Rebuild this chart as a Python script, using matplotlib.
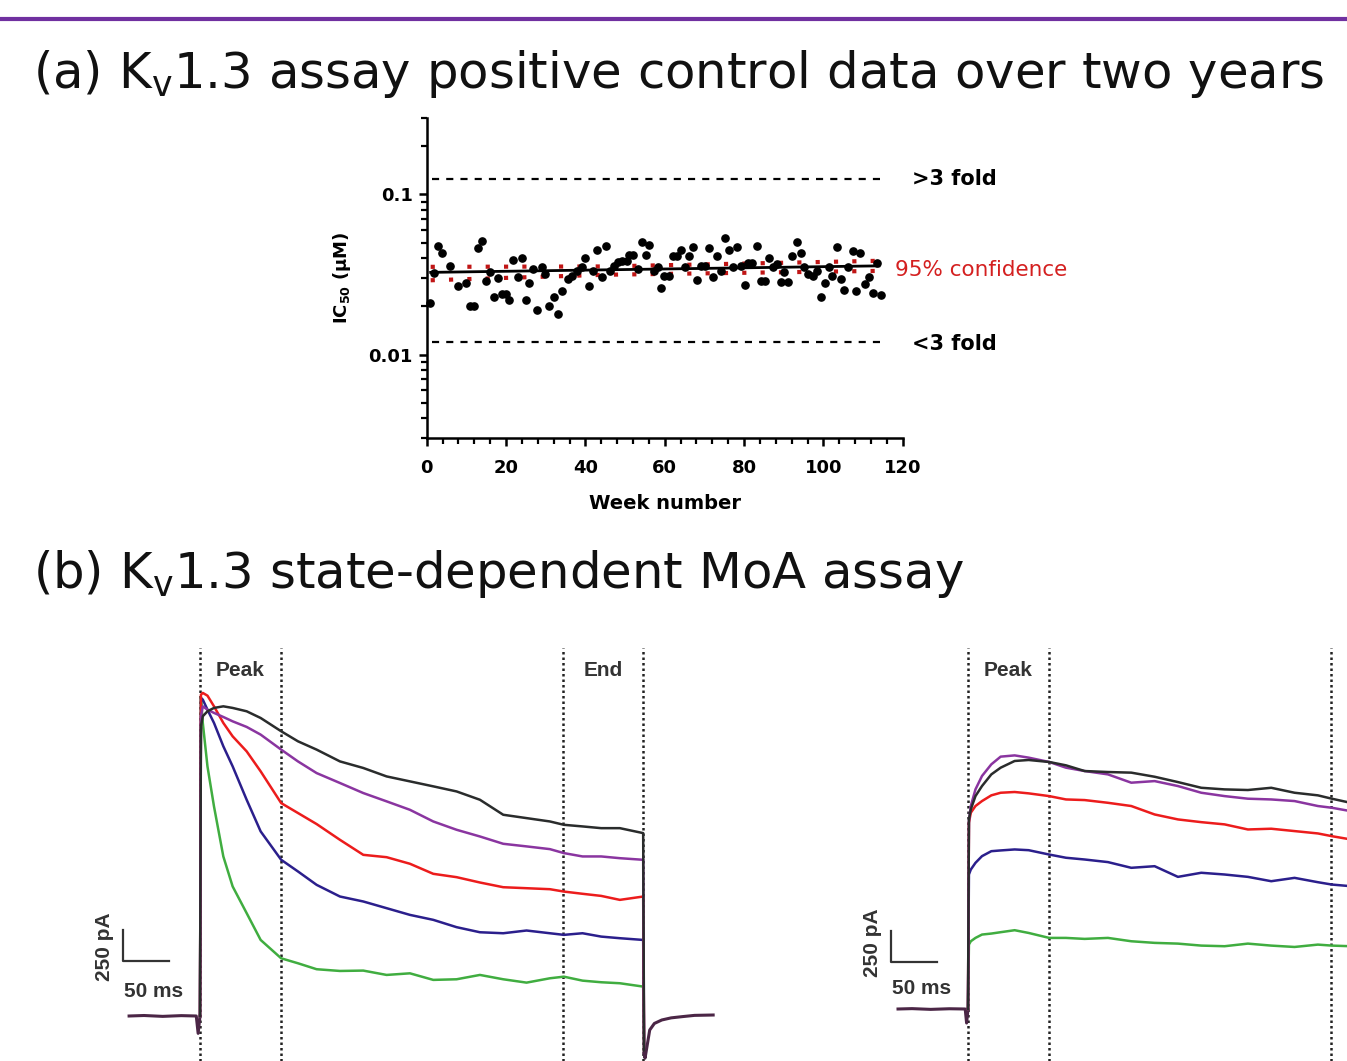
import numpy as np
import matplotlib
matplotlib.use('Agg')
import matplotlib.pyplot as plt
from matplotlib.ticker import MultipleLocator, LogLocator, FixedLocator, NullFormatter

plt.rcParams['font.family'] = ['DejaVu Sans']
plt.rcParams['mathtext.default'] = 'regular'

W, H = 1347, 1061

# ---- panel (a): Kv1.3 positive control IC50 per week ----
weeks = [0.8, 1.8, 2.9, 3.9, 5.9, 7.8, 9.9, 10.9, 11.8, 12.9, 13.9, 14.9, 16.0, 17.0, 18.1,
         18.9, 19.9, 20.8, 21.8, 22.9, 24.0, 25.0, 25.9, 26.9, 27.9, 29.0, 29.8, 30.9, 32.1,
         33.0, 34.0, 35.7, 36.6, 37.8, 39.1, 39.9, 41.0, 42.0, 43.0, 44.1, 45.1, 46.2, 47.2,
         48.3, 49.3, 50.4, 51.1, 52.1, 53.2, 54.2, 55.3, 56.1, 57.2, 58.2, 59.0, 59.8, 61.2,
         62.2, 63.2, 64.1, 65.1, 66.2, 67.1, 68.1, 69.2, 70.2, 71.2, 72.1, 73.1, 74.2, 75.2,
         76.2, 77.2, 78.2, 79.3, 80.3, 81.1, 82.1, 83.3, 84.2, 85.3, 86.2, 87.3, 88.3, 89.3,
         90.1, 91.2, 92.2, 93.3, 94.3, 95.2, 96.2, 97.3, 98.4, 99.4, 100.3, 101.3, 102.3,
         103.4, 104.4, 105.3, 106.3, 107.4, 108.3, 109.3, 110.4, 111.4, 112.5, 113.5, 114.6]
ic50 = [0.0211, 0.0321, 0.0479, 0.0429, 0.0358, 0.0268, 0.0279, 0.0201, 0.0201, 0.0461,
        0.0514, 0.0289, 0.0330, 0.0230, 0.0299, 0.0240, 0.0240, 0.0218, 0.0391, 0.0307,
        0.0400, 0.0219, 0.0279, 0.0342, 0.0189, 0.0350, 0.0318, 0.0201, 0.0229, 0.0180,
        0.0250, 0.0296, 0.0310, 0.0333, 0.0350, 0.0399, 0.0268, 0.0333, 0.0450, 0.0303,
        0.0479, 0.0333, 0.0358, 0.0376, 0.0385, 0.0385, 0.0418, 0.0418, 0.0342, 0.0502,
        0.0418, 0.0485, 0.0333, 0.0350, 0.0260, 0.0310, 0.0310, 0.0410, 0.0410, 0.0452,
        0.0350, 0.0410, 0.0467, 0.0291, 0.0358, 0.0358, 0.0461, 0.0307, 0.0410, 0.0333,
        0.0532, 0.0450, 0.0350, 0.0467, 0.0358, 0.0271, 0.0373, 0.0373, 0.0474, 0.0289,
        0.0289, 0.0399, 0.0350, 0.0367, 0.0284, 0.0326, 0.0282, 0.0410, 0.0502, 0.0429,
        0.0350, 0.0318, 0.0310, 0.0333, 0.0230, 0.0279, 0.0350, 0.0310, 0.0472, 0.0296,
        0.0253, 0.0350, 0.0441, 0.0250, 0.0431, 0.0275, 0.0303, 0.0241, 0.0371, 0.0235]

fit_weeks = [1, 114]
fit_ic50 = [0.0326, 0.0358]
ci_weeks = [1, 45, 114]
ci_upper = [0.0353, 0.0355, 0.0385]
ci_lower = [0.0291, 0.0315, 0.0333]
fold_weeks = [1.3, 115.5]
upper_fold = 0.1254
lower_fold = 0.0119

# ---- panel (b): current traces (ms, pA) ----
t_left = [0, 1, 3, 8, 15, 25, 35, 50, 65, 87, 105, 125, 150, 175, 200, 225, 250, 275,
          300, 325, 350, 375, 390, 410, 430, 450, 475]
left_black = [0, 2335, 2416, 2456, 2483, 2496, 2483, 2456, 2402, 2295, 2214, 2147, 2052,
              1999, 1931, 1891, 1851, 1810, 1743, 1622, 1595, 1568, 1541, 1528, 1514, 1514, 1474]
left_purple = [0, 2416, 2496, 2469, 2443, 2410, 2375, 2330, 2268, 2147, 2052, 1958, 1878,
               1797, 1730, 1662, 1568, 1501, 1447, 1388, 1367, 1345, 1313, 1286, 1286, 1272, 1259]
left_red = [0, 2590, 2604, 2582, 2496, 2362, 2254, 2133, 1972, 1716, 1636, 1547, 1420,
            1299, 1280, 1227, 1146, 1119, 1076, 1038, 1030, 1022, 1003, 985, 968, 936, 963]
left_blue = [0, 2564, 2550, 2469, 2362, 2174, 2012, 1743, 1488, 1259, 1165, 1057, 963,
             923, 869, 815, 775, 716, 675, 667, 689, 667, 654, 667, 640, 627, 613]
left_green = [0, 2564, 2362, 2012, 1689, 1286, 1044, 829, 613, 465, 425, 377, 363, 366,
              331, 344, 291, 296, 331, 296, 269, 304, 317, 285, 272, 264, 237]
left_pre_t = [-76, -60, -40, -20, -4, -2, 0]
left_pre_i = [0, 4, -3, 3, 0, -140, 0]
left_tail_t = [476, 477, 479, 482, 487, 495, 505, 517, 530, 550]
left_tail_i = [-300, -340, -250, -113, -60, -32, -15, -5, 5, 8]

t_right = [0, 1, 3, 8, 15, 25, 35, 50, 65, 87, 105, 125, 150, 175, 200, 225, 250, 275,
           300, 325, 350, 375, 390, 410]
right_black = [0, 1528, 1609, 1716, 1797, 1891, 1945, 1999, 2007, 1991, 1964, 1918, 1910,
               1905, 1872, 1829, 1783, 1770, 1765, 1783, 1743, 1722, 1695, 1662]
right_purple = [0, 1514, 1636, 1770, 1878, 1972, 2034, 2044, 2026, 1991, 1945, 1918, 1891,
                1824, 1837, 1797, 1743, 1716, 1695, 1689, 1676, 1636, 1622, 1595]
right_red = [0, 1501, 1582, 1636, 1676, 1722, 1743, 1749, 1738, 1716, 1689, 1684, 1662,
             1636, 1568, 1528, 1506, 1488, 1447, 1453, 1434, 1415, 1393, 1367]
right_blue = [0, 1084, 1124, 1178, 1232, 1272, 1278, 1286, 1280, 1245, 1219, 1205, 1184,
              1138, 1151, 1065, 1098, 1084, 1065, 1030, 1057, 1022, 1003, 990]
right_green = [0, 519, 546, 573, 600, 608, 619, 635, 613, 573, 573, 565, 573, 546, 533,
               527, 511, 506, 527, 511, 500, 519, 511, 506]
right_pre_t = [-75, -60, -40, -20, -3, -1.5, 0]
right_pre_i = [0, 3, -3, 2, 0, -113, 0]

marker_t = [0, 87, 389, 475]

trace_colors = {'black': '#2a2c2c', 'purple': '#8a35a0', 'red': '#ec1c1c',
                'blue': '#2b1f8c', 'green': '#40ad40'}
base_color = '#4b2646'


def px_box(left, top, right, bottom):
    return [left / W, 1 - bottom / H, (right - left) / W, (bottom - top) / H]


fig = plt.figure(figsize=(W / 100, H / 100), dpi=100)

# purple rule and headings
fig.add_artist(plt.Line2D([0, 1], [1 - 19 / H, 1 - 19 / H], color='#7030a0', lw=3))
fig.text(33 / W, 1 - 88 / H, '(a) K$_v$1.3 assay positive control data over two years',
         fontsize=35.8, va='baseline', color='#111111')
fig.text(33 / W, 1 - 588 / H, '(b) K$_v$1.3 state-dependent MoA assay',
         fontsize=35.8, va='baseline', color='#111111')

# ---- (a) scatter ----
ax = fig.add_axes(px_box(426.7, 118, 902.7, 438.3))
ax.set_yscale('log')
ax.set_xlim(0, 120)
ax.set_ylim(0.003, 0.3)
ax.plot(fold_weeks, [upper_fold] * 2, color='black', lw=1.6, ls=(0, (3.2, 3.2)))
ax.plot(fold_weeks, [lower_fold] * 2, color='black', lw=1.6, ls=(0, (3.2, 3.2)))
ax.plot(ci_weeks, ci_upper, color='#c01515', lw=3, ls=(0, (1, 3.4)))
ax.plot(ci_weeks, ci_lower, color='#c01515', lw=3, ls=(0, (1, 3.4)))
ax.plot(weeks, ic50, 'o', color='black', ms=5.2, clip_on=False)
ax.plot(fit_weeks, fit_ic50, color='black', lw=2)

for s in ['top', 'right']:
    ax.spines[s].set_visible(False)
for s in ['left', 'bottom']:
    ax.spines[s].set_linewidth(1.8)
ax.xaxis.set_major_locator(MultipleLocator(20))
ax.xaxis.set_minor_locator(MultipleLocator(4))
ax.yaxis.set_major_locator(FixedLocator([0.01, 0.1]))
ax.yaxis.set_minor_locator(LogLocator(base=10, subs=np.arange(2, 10)))
ax.yaxis.set_minor_formatter(NullFormatter())
ax.set_yticklabels(['0.01', '0.1'])
ax.tick_params(which='major', length=6, width=1.8, labelsize=13, pad=4)
ax.tick_params(axis='x', which='major', pad=9)
ax.tick_params(which='minor', length=4, width=1.6)
for lab in ax.get_xticklabels() + ax.get_yticklabels():
    lab.set_fontweight('bold')
ax.set_xlabel('Week number', fontsize=14, fontweight='bold')
ax.xaxis.set_label_coords(0.5, -0.175)
ax.set_ylabel(r'IC$\mathbf{_{50}}$ (µM)', fontsize=13, fontweight='bold')
ax.yaxis.set_label_coords(-0.155, 0.5)

ax.text(122.3, upper_fold, '>3 fold', fontsize=15, fontweight='bold', va='center', clip_on=False)
ax.text(122.3, lower_fold * 0.985, '<3 fold', fontsize=15, fontweight='bold', va='center', clip_on=False)
ax.text(118, 0.0337, '95% confidence', fontsize=15.5, color='#d42020', va='center', clip_on=False)

# ---- (b) traces ----
lab_kw = dict(fontsize=15, fontweight='bold', color='#333333', family=['Liberation Sans', 'DejaVu Sans'])


def trace_panel(box, x0, base_y, t, traces, pre_t, pre_i, tail_t, tail_i, bar_y, pa_y, ms_y, end_label):
    l, t_px, r, b = box
    axb = fig.add_axes(px_box(l, t_px, r, b))
    axb.set_xlim((l - x0) / 0.933, (r - x0) / 0.933)
    axb.set_ylim((base_y - b) * 8.06, (base_y - t_px) * 8.06)
    axb.axis('off')
    top_i = (base_y - 648) * 8.06
    axb.vlines(marker_t, (base_y - b) * 8.06, top_i, color='#222222', lw=1.8, ls=(0, (1, 1.2)))
    axb.plot(pre_t, pre_i, color=base_color, lw=2.2)
    for name in ['green', 'blue', 'red', 'purple', 'black']:
        tt = list(t)
        ii = list(traces[name])
        if tail_t is not None:
            tt = tt + tail_t[:1]
            ii = ii + tail_i[:1]
        axb.plot(tt, ii, color=trace_colors[name], lw=1.8)
    if tail_t is not None:
        axb.plot(tail_t, tail_i, color=base_color, lw=2.2)
    axb.plot([-82, -82, -33], [bar_y + 250, bar_y, bar_y], color='#333333', lw=1.6)
    axb.text(-102, pa_y, '250 pA', rotation=90, ha='center', va='center', **lab_kw)
    axb.text(-50, ms_y, '50 ms', ha='center', va='center', **lab_kw)
    axb.text(43, (base_y - 670) * 8.06, 'Peak', ha='center', va='center', **lab_kw)
    if end_label:
        axb.text(432, (base_y - 670) * 8.06, 'End', ha='center', va='center', **lab_kw)
    return axb


trace_panel((90, 640, 730, 1061), 200, 1016, t_left,
            {'black': left_black, 'purple': left_purple, 'red': left_red,
             'blue': left_blue, 'green': left_green},
            left_pre_t, left_pre_i, left_tail_t, left_tail_i, 440, 560, 196, True)
trace_panel((850, 640, 1347, 1061), 968, 1009, t_right,
            {'black': right_black, 'purple': right_purple, 'red': right_red,
             'blue': right_blue, 'green': right_green},
            right_pre_t, right_pre_i, None, None, 380, 532, 169, False)

fig.savefig('out.png', dpi=100)
